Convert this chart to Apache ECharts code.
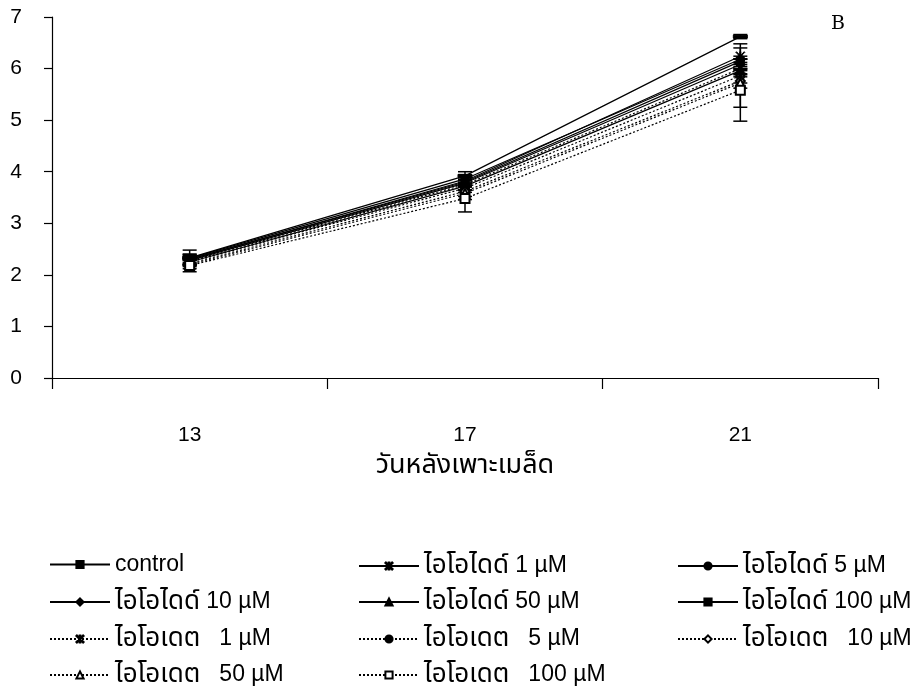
<!DOCTYPE html>
<html><head><meta charset="utf-8">
<script src="https://cdn.jsdelivr.net/npm/echarts@6/dist/echarts.min.js"></script>
<style>html,body{margin:0;padding:0;background:#fff}#c{width:915px;height:687px}</style>
</head><body><div id="c"></div>
<script>
// ---- data ----
const categories = ['13', '17', '21'];
const yTicks = [0, 1, 2, 3, 4, 5, 6, 7];
const seriesNames = [
  'control', 'ไอโอไดด์ 1 µM', 'ไอโอไดด์ 5 µM',
  'ไอโอไดด์ 10 µM', 'ไอโอไดด์ 50 µM', 'ไอโอไดด์ 100 µM',
  'ไอโอเดต   1 µM', 'ไอโอเดต   5 µM', 'ไอโอเดต   10 µM',
  'ไอโอเดต   50 µM', 'ไอโอเดต   100 µM'
];
const control     = [2.33, 3.92, 6.62];
const iodide1     = [2.30, 3.82, 6.24];
const iodide5     = [2.32, 3.86, 6.18];
const iodide10    = [2.28, 3.78, 6.08];
const iodide50    = [2.25, 3.72, 5.96];
const iodide100   = [2.30, 3.80, 6.14];
const iodate1     = [2.27, 3.75, 6.00];
const iodate5     = [2.25, 3.68, 5.86];
const iodate10    = [2.22, 3.62, 5.76];
const iodate50    = [2.20, 3.58, 5.72];
const iodate100   = [2.18, 3.48, 5.58];
const control_err   = [0.15, 0.08, 0.04];
const iodide1_err   = [0.10, 0.10, 0.24];
const iodide5_err   = [0.08, 0.08, 0.22];
const iodide10_err  = [0.08, 0.06, 0.10];
const iodide50_err  = [0.06, 0.08, 0.12];
const iodide100_err = [0.08, 0.08, 0.10];
const iodate1_err   = [0.06, 0.10, 0.12];
const iodate5_err   = [0.06, 0.08, 0.14];
const iodate10_err  = [0.06, 0.10, 0.14];
const iodate50_err  = [0.08, 0.12, 0.47];
const iodate100_err = [0.12, 0.26, 0.60];

const allValues = [control, iodide1, iodide5, iodide10, iodide50, iodide100,
  iodate1, iodate5, iodate10, iodate50, iodate100];
const allErrors = [control_err, iodide1_err, iodide5_err, iodide10_err, iodide50_err, iodide100_err,
  iodate1_err, iodate5_err, iodate10_err, iodate50_err, iodate100_err];

// ---- styles ----
const ASTER = 'path://M4.5,0 L5.5,0 L5.5,10 L4.5,10 Z M0,0.7 L0.7,0 L10,9.3 L9.3,10 Z M9.3,0 L10,0.7 L0.7,10 L0,9.3 Z';
const DOTCIRCLE = 'path://M5,0 A5,5 0 1,1 5,10 A5,5 0 1,1 5,0 Z M5,1.4 A3.6,3.6 0 1,0 5,8.6 A3.6,3.6 0 1,0 5,1.4 Z M5,3.7 A1.3,1.3 0 1,1 5,6.3 A1.3,1.3 0 1,1 5,3.7 Z';
const BAR = 'path://M0,0 L14,0 L14,3 L0,3 Z';
const marks = [
  {s: BAR, size: 14, dash: 'solid'},
  {s: ASTER, size: 9, dash: 'solid'},
  {s: 'circle', size: 8, dash: 'solid'},
  {s: 'diamond', size: 9, dash: 'solid'},
  {s: 'triangle', size: 9, dash: 'solid'},
  {s: 'rect', size: 8, dash: 'solid'},
  {s: ASTER, size: 9, dash: [2, 2]},
  {s: DOTCIRCLE, size: 9, dash: [2, 2]},
  {s: 'emptyDiamond', size: 9, dash: [2, 2]},
  {s: 'emptyTriangle', size: 9, dash: [2, 2]},
  {s: 'emptyRect', size: 9, dash: [2, 2]}
];
const FONT = '"Liberation Sans", Arial, "Noto Sans Thai", "Noto Sans", sans-serif';

const series = [];
const errData = [];
allValues.forEach((vals, i) => {
  series.push({
    name: seriesNames[i], type: 'line', data: vals,
    symbol: marks[i].s, symbolSize: marks[i].size, symbolKeepAspect: true, showAllSymbol: true,
    itemStyle: {color: '#000', borderColor: '#000', borderWidth: 1},
    lineStyle: {color: '#000', width: 1.2, type: marks[i].dash},
    z: 3, animation: false
  });
  vals.forEach((v, j) => errData.push([j, v, allErrors[i][j]]));
});
series.push({
  type: 'custom', data: errData, encode: {x: 0, y: 1}, z: 2, animation: false,
  renderItem: function (params, api) {
    const x = api.value(0), v = api.value(1), e = api.value(2);
    const t = api.coord([x, v + e]), b = api.coord([x, v - e]);
    const hw = 7, st = {stroke: '#000', lineWidth: 1.5};
    return {type: 'group', children: [
      {type: 'line', shape: {x1: t[0], y1: t[1], x2: b[0], y2: b[1]}, style: st},
      {type: 'line', shape: {x1: t[0] - hw, y1: t[1], x2: t[0] + hw, y2: t[1]}, style: st},
      {type: 'line', shape: {x1: b[0] - hw, y1: b[1], x2: b[0] + hw, y2: b[1]}, style: st}
    ]};
  }
});

const colLeft = [49, 358, 677];
const rowCenter = [564, 600, 637, 673];
const legends = seriesNames.map((n, i) => ({
  data: [n], left: colLeft[i % 3], top: rowCenter[Math.floor(i / 3)] - 11,
  itemWidth: 60, itemHeight: 9, padding: 0, selectedMode: false,
  formatter: function (name) {
    const m = name.match(/^([\u0E00-\u0E7F]+)(.*)$/);
    if (!m) return '{l|' + name + '}';
    return '{t|' + m[1] + '}{l|' + m[2] + '}';
  },
  textStyle: {
    fontSize: 23, fontFamily: FONT, color: '#000',
    rich: {
      t: {fontSize: 26, fontFamily: FONT, color: '#000'},
      l: {fontSize: 23, fontFamily: FONT, color: '#000'}
    }
  }
}));

const chart = echarts.init(document.getElementById('c'), null, {renderer: 'canvas'});
chart.setOption({
  backgroundColor: '#fff',
  animation: false,
  grid: {left: 52, right: 37, top: 17, bottom: 309, containLabel: false},
  xAxis: {
    type: 'category', data: categories, boundaryGap: true,
    axisLine: {lineStyle: {color: '#000', width: 1.2}},
    axisTick: {show: true, length: 11, interval: 0, lineStyle: {color: '#000', width: 1.2}},
    axisLabel: {margin: 47, fontSize: 21, fontFamily: FONT, color: '#000'},
    name: 'วันหลังเพาะเมล็ด', nameLocation: 'middle', nameGap: 74,
    nameTextStyle: {fontSize: 27, fontFamily: FONT, color: '#000'}
  },
  yAxis: {
    type: 'value', min: yTicks[0], max: yTicks[yTicks.length - 1], interval: 1,
    splitLine: {show: false},
    axisLine: {show: true, lineStyle: {color: '#000', width: 1.2}},
    axisTick: {show: true, length: 8, lineStyle: {color: '#000', width: 1.2}},
    axisLabel: {margin: 30, fontSize: 21, fontFamily: FONT, color: '#000'}
  },
  legend: legends,
  graphic: [{
    type: 'text', left: 831, top: 15,
    style: {text: 'B', fontSize: 19, fontFamily: '"DejaVu Serif", "Liberation Serif", serif', fill: '#000'}
  }],
  series: series
});
</script></body></html>
